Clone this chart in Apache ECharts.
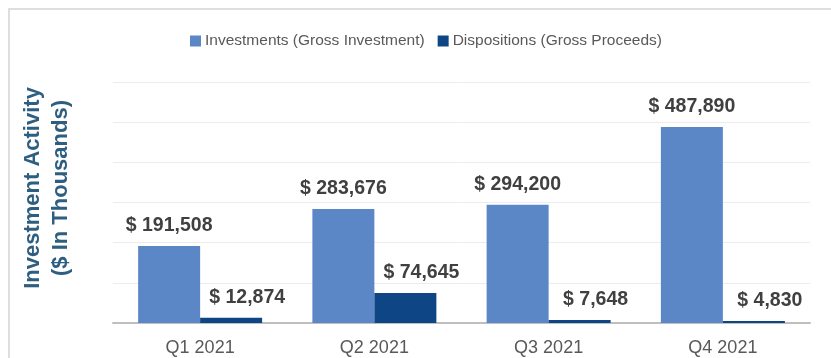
<!DOCTYPE html>
<html>
<head>
<meta charset="utf-8">
<script src="https://cdn.jsdelivr.net/npm/echarts@6/dist/echarts.min.js"></script>
<style>
  html, body { margin: 0; padding: 0; background: #ffffff; }
  #chart { width: 831px; height: 358px; }
</style>
</head>
<body>
<div id="chart"></div>
<script>
// Quarterly investment activity, $ in thousands
const quarters = ['Q1 2021', 'Q2 2021', 'Q3 2021', 'Q4 2021'];
const investments = [191508, 283676, 294200, 487890];
const dispositions = [12874, 74645, 7648, 4830];
const seriesNames = ['Investments (Gross Investment)', 'Dispositions (Gross Proceeds)'];
const axisTitle = ['Investment Activity', '($ In Thousands)'];

const fmt = v => '$ ' + v.toLocaleString('en-US');
const labelFont = { fontFamily: 'Liberation Sans, Arial, sans-serif', fontSize: 19.5, fontWeight: 'bold', color: '#404040' };

const chart = echarts.init(document.getElementById('chart'));
chart.setOption({
  backgroundColor: '#ffffff',
  animation: false,
  legend: {
    left: 185,
    top: 28,
    itemWidth: 11,
    itemHeight: 11,
    itemGap: 13,
    icon: 'rect',
    textStyle: { fontFamily: 'Liberation Sans, Arial, sans-serif', fontSize: 15.5, color: '#595959', padding: [0, 0, 0, -1] },
    data: seriesNames
  },
  grid: { left: 113, right: 21, top: 82, bottom: 35 },
  xAxis: {
    type: 'category',
    data: quarters,
    axisLine: { lineStyle: { color: '#bfbfbf', width: 2 } },
    axisTick: { show: false },
    axisLabel: { fontFamily: 'Liberation Sans, Arial, sans-serif', fontSize: 18, color: '#595959', margin: 16 }
  },
  yAxis: {
    type: 'value',
    min: 0,
    max: 600000,
    interval: 100000,
    axisLabel: { show: false },
    axisLine: { show: false },
    axisTick: { show: false },
    splitLine: { lineStyle: { color: '#ececec', width: 1 } }
  },
  series: [
    {
      name: seriesNames[0],
      type: 'bar',
      data: investments,
      barWidth: 62,
      barGap: '0%',
      itemStyle: { color: '#5b87c7' },
      label: Object.assign({ show: true, position: 'top', distance: 10, formatter: p => fmt(p.value) }, labelFont)
    },
    {
      name: seriesNames[1],
      type: 'bar',
      data: dispositions,
      barWidth: 62,
      itemStyle: { color: '#0e4585' },
      label: Object.assign({ show: true, position: 'top', distance: 10, offset: [16, 0], formatter: p => fmt(p.value) }, labelFont)
    }
  ],
  graphic: [
    {
      type: 'rect',
      silent: true,
      shape: { x: 9, y: 9, width: 900, height: 400 },
      style: { fill: 'none', stroke: '#dedede', lineWidth: 2 }
    },
    {
      type: 'text',
      x: 47,
      y: 188,
      rotation: Math.PI / 2,
      style: {
        text: axisTitle.join('\n'),
        align: 'center',
        verticalAlign: 'middle',
        fontFamily: 'Liberation Sans, Arial, sans-serif',
        fontSize: 22,
        fontWeight: 'bold',
        lineHeight: 28,
        fill: '#2e5f80'
      }
    }
  ]
});
</script>
</body>
</html>
